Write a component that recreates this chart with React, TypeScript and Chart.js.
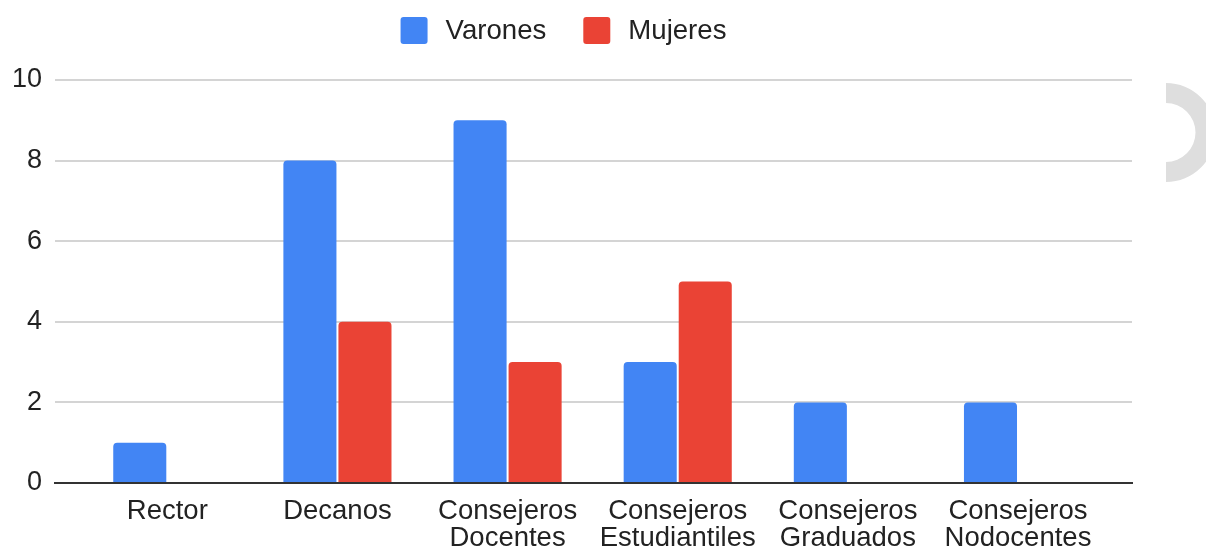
import React, { useEffect, useRef } from "react";
import { Chart, registerables } from "chart.js";

Chart.register(...registerables);

const categories: string[][] = [
  ["Rector"],
  ["Decanos"],
  ["Consejeros", "Docentes"],
  ["Consejeros", "Estudiantiles"],
  ["Consejeros", "Graduados"],
  ["Consejeros", "Nodocentes"],
];
const varones: number[] = [1, 8, 9, 3, 2, 2];
const mujeres: number[] = [0, 4, 3, 5, 0, 0];
const yTicks: number[] = [0, 2, 4, 6, 8, 10];
const seriesNames: string[] = ["Varones", "Mujeres"];
const seriesColors: string[] = ["#4285F4", "#EA4335"];

const FONT = "'Liberation Sans', Arial, Helvetica, sans-serif";
const TEXT = "#222222";

const legendPlugin = {
  id: "customLegend",
  afterDraw(chart: any) {
    const ctx = chart.ctx;
    ctx.save();
    ctx.font = `27.6px ${FONT}`;
    const box = 27;
    const gapText = 18;
    const gapItem = 37;
    const items = chart.data.datasets.map((d: any) => ({
      label: d.label,
      color: d.backgroundColor,
      w: box + gapText + ctx.measureText(d.label).width,
    }));
    const total = items.reduce((s: number, it: any) => s + it.w, 0) + gapItem * (items.length - 1);
    let x = 563.5 - total / 2;
    const y = 17;
    items.forEach((it: any) => {
      ctx.fillStyle = it.color;
      ctx.beginPath();
      (ctx as any).roundRect(x, y, box, box, 3);
      ctx.fill();
      ctx.fillStyle = TEXT;
      ctx.textBaseline = "middle";
      ctx.textAlign = "left";
      ctx.fillText(it.label, x + box + gapText, y + box / 2 + 1);
      x += it.w + gapItem;
    });
    ctx.restore();
  },
};

const ringPlugin = {
  id: "sideRing",
  afterDraw(chart: any) {
    const ctx = chart.ctx;
    ctx.save();
    ctx.fillStyle = "#dedede";
    ctx.beginPath();
    ctx.arc(1166, 132.5, 49.5, -Math.PI / 2, Math.PI / 2, false);
    ctx.arc(1166, 132.5, 29.5, Math.PI / 2, -Math.PI / 2, true);
    ctx.closePath();
    ctx.fill();
    ctx.restore();
  },
};

export default function App() {
  const ref = useRef<HTMLCanvasElement | null>(null);

  useEffect(() => {
    if (!ref.current) return;
    Chart.defaults.font.family = FONT;
    const mk = (vals: number[]) => vals.map((v, i) => ({ x: i, y: v }));
    const chart = new Chart(ref.current, {
      type: "bar",
      data: {
        datasets: [
          {
            label: seriesNames[0],
            data: mk(varones),
            backgroundColor: seriesColors[0],
            borderRadius: 4,
            categoryPercentage: 0.647,
            barPercentage: 0.964,
          },
          {
            label: seriesNames[1],
            data: mk(mujeres),
            backgroundColor: seriesColors[1],
            borderRadius: 4,
            categoryPercentage: 0.647,
            barPercentage: 0.964,
          },
        ] as any,
      },
      options: {
        animation: false,
        responsive: false,
        maintainAspectRatio: false,
        layout: { padding: { left: 0, right: 74, top: 80, bottom: 0 } },
        plugins: {
          legend: { display: false },
          tooltip: { enabled: false },
        },
        scales: {
          x: {
            type: "linear",
            offset: false,
            min: -0.66,
            max: 5.67,
            afterBuildTicks(scale: any) {
              scale.ticks = categories.map((_, i) => ({ value: i }));
            },
            afterFit(scale: any) {
              scale.height = 64;
            },
            ticks: {
              autoSkip: false,
              maxRotation: 0,
              minRotation: 0,
              padding: 15,
              color: TEXT,
              font: { size: 27.5, family: FONT, lineHeight: 0.99 },
              callback: (v: any) => categories[Math.round(Number(v))] ?? "",
            },
            grid: { display: false, drawTicks: false },
            border: { display: true, color: "#333333", width: 2 },
          },
          y: {
            min: 0,
            max: 10,
            afterBuildTicks(scale: any) {
              scale.ticks = yTicks.map((v) => ({ value: v }));
            },
            afterFit(scale: any) {
              scale.width = 55;
            },
            ticks: {
              padding: 13,
              color: TEXT,
              font: { size: 27, family: FONT },
            },
            grid: { color: "#d4d4d4", lineWidth: 2, drawTicks: false },
            border: { display: false },
          },
        },
      },
      plugins: [legendPlugin, ringPlugin],
    });
    return () => chart.destroy();
  }, []);

  return (
    <>
      <style>{`html,body{margin:0;padding:0;overflow:hidden;background:#fff;}`}</style>
      <canvas ref={ref} width={1206} height={547} style={{ display: "block", width: 1206, height: 547 }} />
    </>
  );
}
